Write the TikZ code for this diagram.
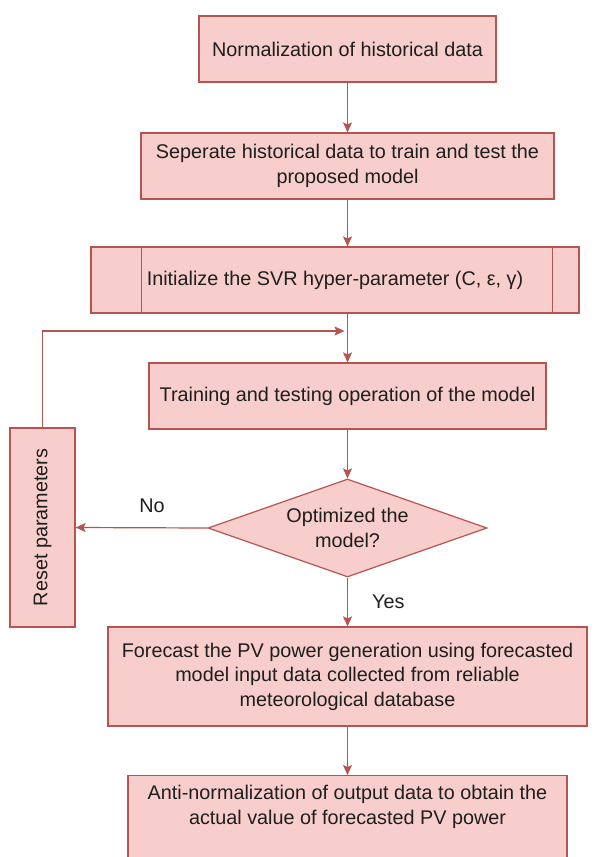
\documentclass[tikz,border=0pt]{standalone}
\usepackage{fontspec}
\setmainfont{Liberation Sans}
\usetikzlibrary{arrows.meta,shapes.geometric}
\definecolor{boxfill}{HTML}{F8CECC}
\definecolor{boxline}{HTML}{B85450}
\definecolor{boxtext}{HTML}{1E1E1E}

\begin{document}
\begin{tikzpicture}[x=1pt,y=-1pt,
  flowbox/.style={draw=boxline,fill=boxfill,line width=1.2pt,text=boxtext,
    font=\fontsize{19.8}{24.5}\selectfont,align=center,inner sep=0pt},
  flowtext/.style={text=boxtext,font=\fontsize{19.8}{24.5}\selectfont,inner sep=0pt},
  flowline/.style={draw=boxline,line width=1.2pt,-{Stealth[length=10pt,width=9pt,inset=2pt]}}]
\useasboundingbox (0,0) rectangle (603,857);
\clip (0,0) rectangle (603,857);
\fill[white] (0,0) rectangle (603,857);
\node[flowbox,minimum width=297pt,minimum height=66pt] (norm) at (347.5,49) {Normalization of historical data};
\node[flowbox,minimum width=413pt,minimum height=66pt] (sep) at (347.5,166) {Seperate historical data to train and test the\\proposed model};
\node[flowbox,minimum width=488pt,minimum height=66pt] (init) at (335,280) {Initialize the SVR hyper-parameter (C, ε, γ)};
\draw[boxline,line width=1.2pt] ([xshift=51pt]init.north west) -- ([xshift=51pt]init.south west);
\draw[boxline,line width=1.2pt] ([xshift=-27pt]init.north east) -- ([xshift=-27pt]init.south east);
\node[flowbox,minimum width=397pt,minimum height=66pt] (train) at (347.5,396) {Training and testing operation of the model};
\node[flowbox,shape=diamond,aspect=2.85,minimum width=279pt,minimum height=98pt] (opt) at (347.5,528) {Optimized the\\model?};
\node[flowbox,rotate=90,minimum width=199pt,minimum height=65pt] (reset) at (42.5,527.5) {Reset parameters};
\node[flowbox,minimum width=479pt,minimum height=99pt] (fore) at (347.5,676.5) {Forecast the PV power generation using forecasted\\model input data collected from reliable\\meteorological database};
\node[flowbox,anchor=north,minimum width=439pt,minimum height=110pt] (anti) at (347.5,775) {};
\node[flowtext,align=center] (antitext) at (347.5,807) {Anti-normalization of output data to obtain the\\actual value of forecasted PV power};
\coordinate (join) at (347.5,331);

\draw[flowline] (norm) -- (sep);
\draw[flowline] (sep.south) -- (sep.south |- init.north);
\draw[flowline] (train.north |- init.south) -- (train.north);
\draw[flowline,shorten >=3pt] (reset.east) |- (join);
\draw[flowline] (train) -- (opt);
\draw[flowline] (opt.west) -- node[flowtext,pos=0.42,above=15pt] {No} (reset.south);
\draw[flowline] (opt) -- node[flowtext,anchor=west,xshift=24pt] {Yes} (fore);
\draw[flowline] (fore) -- (anti);
\end{tikzpicture}
\end{document}
